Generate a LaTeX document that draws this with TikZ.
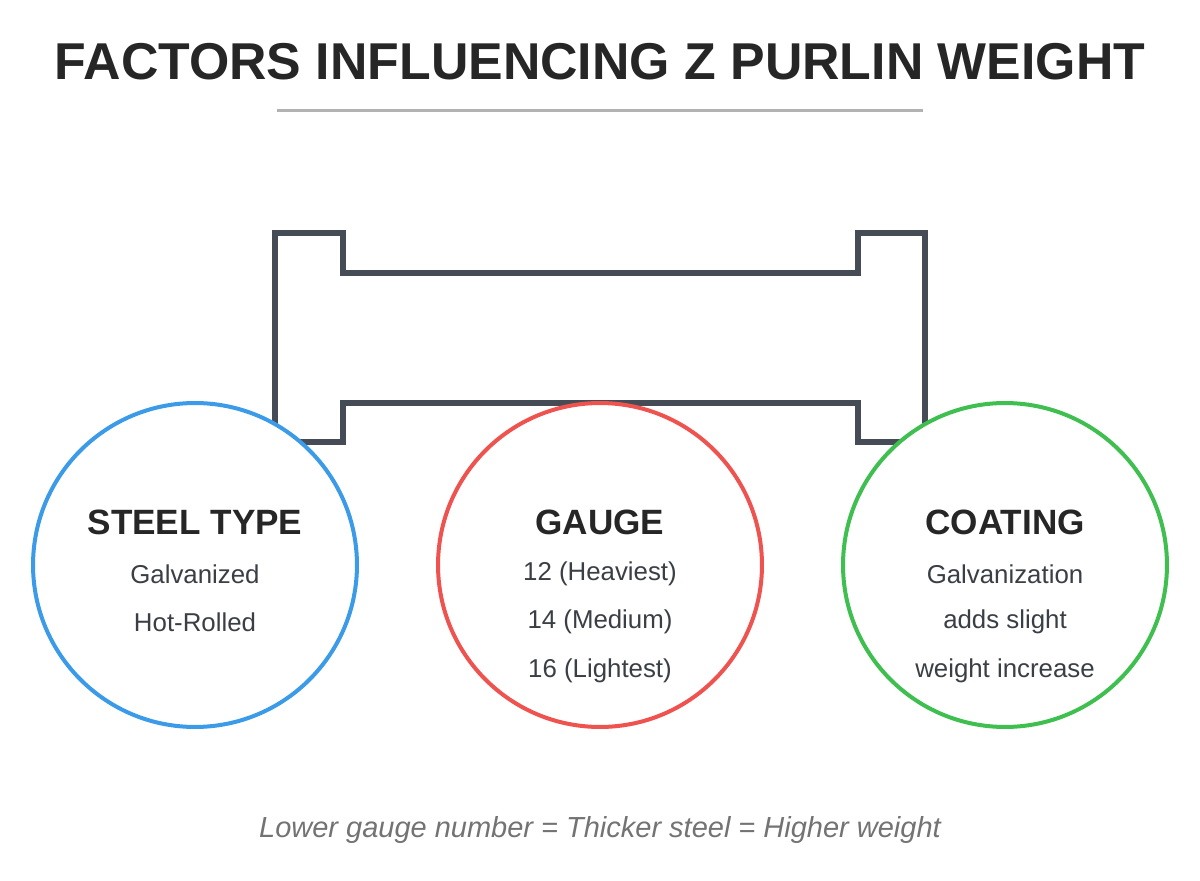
\documentclass[tikz,border=0pt]{standalone}
\usepackage{fontspec}
\setmainfont{Liberation Sans}
\usepackage{xcolor}
\usetikzlibrary{positioning}
\definecolor{beamgray}{HTML}{454C55}
\definecolor{steelblue}{HTML}{3B9BE8}
\definecolor{gaugered}{HTML}{EF5350}
\definecolor{coatgreen}{HTML}{3FBF4F}
\definecolor{textgray}{HTML}{3A3F45}

\begin{document}
\begin{tikzpicture}[x=0.02cm, y=-0.02cm,
  factor/.style={circle, draw, line width=0.08cm, fill=white, minimum size=6.48cm, inner sep=0pt},
  head/.style={font=\fontsize{20}{24}\selectfont\bfseries, text=black!85},
  item/.style={font=\fontsize{14.7}{17}\selectfont, text=textgray}]
\useasboundingbox (0,0) rectangle (1200,881);

% Title
\node (title) at (600,62) {\fontsize{29.5}{34}\selectfont\bfseries\color{black!85}FACTORS INFLUENCING Z PURLIN WEIGHT};
\draw[black!30, line width=0.06cm] (277,111) -- (923,111);

% Beam outline
\draw[beamgray, line width=0.12cm] (275,233) -- (343,233) -- (343,273) -- (858,273) -- (858,233) -- (925,233)
  -- (925,442) -- (858,442) -- (858,403) -- (343,403) -- (343,442) -- (275,442) -- cycle;

% Circles
\node (steel) [factor, draw=steelblue] at (195,565) {};
\node (gauge) [factor, draw=gaugered] at (600,565) {};
\node (coat) [factor, draw=coatgreen] at (1005,565) {};

% Texts
\node (steelh) [head] at (195,522) {STEEL TYPE};
\node (steel1) [item] at (195,574) {Galvanized};
\node (steel2) [item] at (195,622) {Hot-Rolled};

\node (gaugeh) [head] at (600,522) {GAUGE};
\node (gauge1) [item] at (600,574) {12 (Heaviest)};
\node (gauge2) [item] at (600,622) {14 (Medium)};
\node (gauge3) [item] at (600,671) {16 (Lightest)};

\node (coath) [head] at (1005,522) {COATING};
\node (coat1) [item] at (1005,574) {Galvanization};
\node (coat2) [item] at (1005,622) {adds slight};
\node (coat3) [item] at (1005,671) {weight increase};

% Caption
\node (note) at (600,830) {\fontsize{16.5}{20}\selectfont\itshape\color{black!55}Lower gauge number = Thicker steel = Higher weight};
\end{tikzpicture}
\end{document}
